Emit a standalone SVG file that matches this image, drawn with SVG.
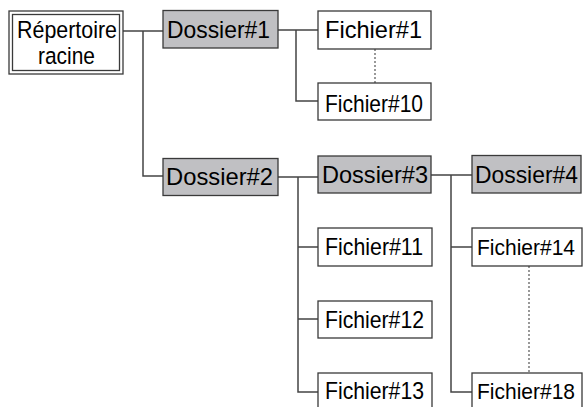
<svg xmlns="http://www.w3.org/2000/svg" width="584" height="407" viewBox="0 0 584 407">
<style>
  .box{fill:#ffffff;stroke:#3a3a3a;stroke-width:1.3}
  .dir{fill:#c0c0c3;stroke:#3a3a3a;stroke-width:1.3}
  .t{font-family:"Liberation Sans",Arial,sans-serif;font-size:24.5px;fill:#000}
  .s{font-size:22.5px}
  .c{fill:none;stroke:#444;stroke-width:1.5}
  .d{fill:none;stroke:#555;stroke-width:1.2;stroke-dasharray:2,2}
</style>
<rect width="584" height="407" fill="#ffffff"/>
<g id="connectors">
  <path class="c" d="M123,31 H163 M143,31 V176 H163"/>
  <path class="c" d="M278,30 H318 M296,30 V101 H318"/>
  <path class="d" d="M375,49 V83"/>
  <path class="c" d="M278,177 H318 M298,177 V392 H318 M298,247 H318 M298,319 H318"/>
  <path class="c" d="M431,175 H472 M451,175 V392 H472 M451,247 H472"/>
  <path class="d" d="M529,266 V373"/>
</g>
<g id="root">
  <rect class="box" x="9" y="11" width="114" height="63"/>
  <rect class="box" x="12.5" y="14.5" width="107" height="56"/>
  <text class="t" x="17" y="37.5" textLength="100" lengthAdjust="spacingAndGlyphs">Répertoire</text>
  <text class="t" x="38" y="64" textLength="57" lengthAdjust="spacingAndGlyphs">racine</text>
</g>
<g id="dossier1">
  <rect class="dir" x="163" y="10.5" width="115" height="37.5"/>
  <text class="t" x="167" y="37.5" textLength="103" lengthAdjust="spacingAndGlyphs">Dossier#1</text>
</g>
<g id="fichier1">
  <rect class="box" x="318" y="11" width="113" height="38"/>
  <text class="t" x="325" y="38" textLength="97" lengthAdjust="spacingAndGlyphs">Fichier#1</text>
</g>
<g id="fichier10">
  <rect class="box" x="318" y="83" width="113" height="37"/>
  <text class="t" x="325" y="111.5" textLength="98" lengthAdjust="spacingAndGlyphs">Fichier#10</text>
</g>
<g id="dossier2">
  <rect class="dir" x="163" y="158.5" width="115" height="37"/>
  <text class="t" x="166" y="185" textLength="107" lengthAdjust="spacingAndGlyphs">Dossier#2</text>
</g>
<g id="dossier3">
  <rect class="dir" x="318" y="156" width="113" height="37"/>
  <text class="t" x="322" y="182.5" textLength="106" lengthAdjust="spacingAndGlyphs">Dossier#3</text>
</g>
<g id="dossier4">
  <rect class="dir" x="472" y="155.5" width="109" height="37.5"/>
  <text class="t" x="475" y="182.5" textLength="103" lengthAdjust="spacingAndGlyphs">Dossier#4</text>
</g>
<g id="fichier11">
  <rect class="box" x="318" y="228" width="114" height="38"/>
  <text class="t" x="325" y="255" textLength="98" lengthAdjust="spacingAndGlyphs">Fichier#11</text>
</g>
<g id="fichier12">
  <rect class="box" x="318" y="301" width="114" height="37"/>
  <text class="t" x="325" y="327.5" textLength="99" lengthAdjust="spacingAndGlyphs">Fichier#12</text>
</g>
<g id="fichier13">
  <rect class="box" x="318" y="373" width="114" height="38"/>
  <text class="t" x="325" y="398.5" textLength="99" lengthAdjust="spacingAndGlyphs">Fichier#13</text>
</g>
<g id="fichier14">
  <rect class="box" x="472" y="228" width="110" height="38"/>
  <text class="t s" x="477" y="255" textLength="98" lengthAdjust="spacingAndGlyphs">Fichier#14</text>
</g>
<g id="fichier18">
  <rect class="box" x="472" y="373" width="110" height="38"/>
  <text class="t s" x="477" y="398.5" textLength="98" lengthAdjust="spacingAndGlyphs">Fichier#18</text>
</g>
</svg>
